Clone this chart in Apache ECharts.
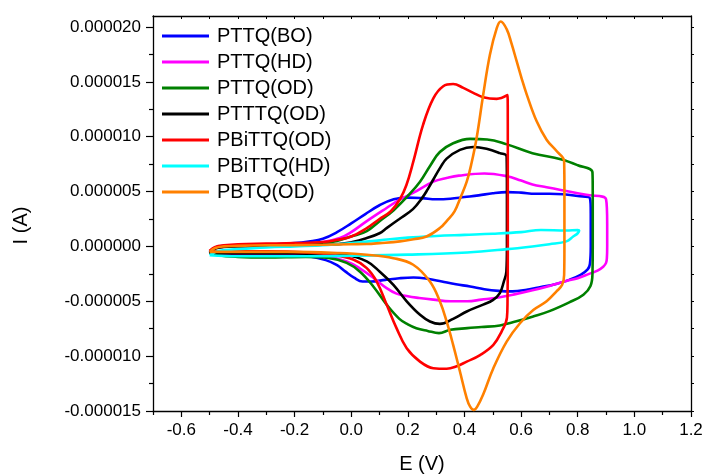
<!DOCTYPE html>
<html>
<head>
<meta charset="utf-8">
<script src="https://cdn.jsdelivr.net/npm/echarts@6/dist/echarts.min.js"></script>
<style>html,body{margin:0;padding:0;background:#fff}#c{width:703px;height:476px}</style>
</head>
<body>
<div id="c"></div>
<script>
// Units: E in V, I in microamperes (converted to A when building series)
const seriesNames = ['PTTQ(BO)','PTTQ(HD)','PTTQ(OD)','PTTTQ(OD)','PBiTTQ(OD)','PBiTTQ(HD)','PBTQ(OD)'];
const seriesColors = ['#0000FF','#FF00FF','#008000','#000000','#FF0000','#00FFFF','#FF8000'];

const PTTQ_BO = [[-0.5,-0.5],[-0.48,-0.1],[-0.45,0.05],[-0.4,0.1],[-0.3,0.15],[-0.2,0.3],[-0.15,0.45],[-0.1,0.7],[-0.05,1.3],[0,2.1],[0.05,2.95],[0.1,3.75],[0.15,4.3],[0.2,4.45],[0.25,4.4],[0.3,4.3],[0.35,4.35],[0.4,4.5],[0.45,4.65],[0.5,4.85],[0.55,4.95],[0.6,4.9],[0.65,4.8],[0.7,4.8],[0.75,4.75],[0.8,4.6],[0.843,4.4],
 [0.846,3.0],[0.846,0],[0.843,-1.6],[0.835,-2.1],[0.81,-2.6],[0.77,-3.05],[0.72,-3.45],[0.67,-3.7],[0.62,-3.95],[0.57,-4.1],[0.52,-4.05],[0.47,-3.9],[0.42,-3.65],[0.37,-3.45],[0.32,-3.2],[0.27,-2.95],[0.22,-2.83],[0.17,-2.9],[0.12,-3.05],[0.07,-3.2],[0.04,-3.2],[0.01,-2.85],[-0.02,-2.3],[-0.05,-1.7],[-0.09,-1.25],[-0.15,-0.9],[-0.2,-0.8],[-0.3,-0.75],[-0.4,-0.72],[-0.47,-0.68],[-0.5,-0.5]];

const PTTQ_HD = [[-0.5,-0.5],[-0.48,-0.1],[-0.45,0.0],[-0.4,0.1],[-0.3,0.15],[-0.2,0.2],[-0.1,0.4],[-0.04,0.76],[0,1.3],[0.055,2.3],[0.125,3.5],[0.17,4.25],[0.22,4.9],[0.29,5.9],[0.34,6.25],[0.38,6.45],[0.47,6.65],[0.55,6.4],[0.6,6.0],[0.64,5.65],[0.69,5.4],[0.74,5.15],[0.83,4.7],[0.9,4.3],
 [0.904,2],[0.904,0],[0.903,-1.0],[0.9,-1.5],[0.89,-1.85],[0.87,-2.2],[0.84,-2.5],[0.8,-2.9],[0.76,-3.15],[0.7,-3.6],[0.64,-4.0],[0.58,-4.35],[0.52,-4.65],[0.46,-4.85],[0.41,-5.0],[0.35,-5.0],[0.29,-4.85],[0.24,-4.7],[0.2,-4.55],[0.16,-4.3],[0.125,-3.8],[0.08,-2.9],[0.03,-2.0],[-0.016,-1.37],[-0.09,-0.9],[-0.2,-0.75],[-0.3,-0.72],[-0.4,-0.7],[-0.47,-0.66],[-0.5,-0.5]];

const PTTQ_OD = [[-0.5,-0.5],[-0.48,-0.15],[-0.45,0],[-0.4,0.05],[-0.3,0.1],[-0.2,0.15],[-0.1,0.3],[-0.05,0.5],[0,0.9],[0.055,1.4],[0.1,2.3],[0.15,3.3],[0.2,4.6],[0.243,5.9],[0.28,7.4],[0.313,8.6],[0.36,9.4],[0.42,9.8],[0.48,9.75],[0.55,9.3],[0.64,8.5],[0.74,7.95],[0.8,7.4],[0.852,6.75],
 [0.853,5],[0.853,0],[0.852,-2.5],[0.845,-3.6],[0.82,-4.4],[0.77,-5.1],[0.7,-5.9],[0.64,-6.4],[0.58,-6.85],[0.525,-7.2],[0.46,-7.35],[0.41,-7.45],[0.35,-7.6],[0.31,-7.9],[0.27,-7.7],[0.23,-7.45],[0.2,-7.1],[0.17,-6.6],[0.125,-5.3],[0.078,-3.65],[0.031,-2.3],[-0.016,-1.5],[-0.08,-1.05],[-0.16,-0.95],[-0.3,-1.0],[-0.4,-0.95],[-0.47,-0.8],[-0.5,-0.55]];

const PTTTQ_OD = [[-0.5,-0.6],[-0.48,-0.2],[-0.45,-0.05],[-0.4,0.0],[-0.3,0.05],[-0.2,0.1],[-0.1,0.15],[-0.016,0.3],[0.055,0.76],[0.1,1.2],[0.125,1.67],[0.17,2.5],[0.218,3.4],[0.25,4.4],[0.27,5.2],[0.29,6.1],[0.315,7.2],[0.337,8.0],[0.384,8.8],[0.431,9.06],[0.478,8.9],[0.525,8.5],[0.549,8.2],
 [0.55,5],[0.55,0],[0.548,-2.3],[0.539,-3.2],[0.525,-4.26],[0.5,-4.9],[0.466,-5.3],[0.408,-5.93],[0.36,-6.6],[0.313,-7.06],[0.278,-6.84],[0.243,-6.23],[0.196,-5.0],[0.149,-3.5],[0.101,-2.3],[0.055,-1.37],[-0.016,-0.8],[-0.1,-0.7],[-0.2,-0.65],[-0.3,-0.65],[-0.4,-0.65],[-0.47,-0.62],[-0.5,-0.6]];

const PBiTTQ_OD = [[-0.5,-0.4],[-0.48,-0.05],[-0.45,0.1],[-0.4,0.2],[-0.3,0.25],[-0.2,0.3],[-0.1,0.4],[-0.05,0.6],[0,0.9],[0.055,1.67],[0.1,2.5],[0.14,3.2],[0.172,4.3],[0.195,5.6],[0.219,7.7],[0.254,11.1],[0.29,13.5],[0.325,14.6],[0.36,14.8],[0.396,14.45],[0.431,14.0],[0.466,13.6],[0.514,13.45],[0.552,13.8],
 [0.553,10],[0.553,0],[0.552,-5],[0.55,-6.5],[0.531,-7.76],[0.502,-8.97],[0.455,-9.9],[0.408,-10.5],[0.37,-10.95],[0.337,-11.15],[0.29,-11.1],[0.243,-10.5],[0.196,-9.28],[0.16,-7.45],[0.125,-5.3],[0.09,-3.2],[0.055,-1.98],[0.007,-1.2],[-0.07,-0.75],[-0.15,-0.55],[-0.3,-0.45],[-0.4,-0.45],[-0.47,-0.45],[-0.5,-0.4]];

const PBiTTQ_HD = [[-0.5,-0.8],[-0.48,-0.5],[-0.45,-0.35],[-0.4,-0.25],[-0.3,-0.1],[-0.2,0.0],[-0.1,0.1],[0.0,0.3],[0.1,0.55],[0.2,0.8],[0.3,0.95],[0.4,1.05],[0.5,1.15],[0.6,1.3],[0.67,1.5],[0.76,1.45],[0.8,1.5],[0.805,1.45],
 [0.8,1.2],[0.784,0.9],[0.76,0.46],[0.7,0.2],[0.64,0.0],[0.55,-0.25],[0.41,-0.55],[0.2,-0.75],[0.0,-0.85],[-0.2,-0.9],[-0.4,-0.9],[-0.5,-0.8]];

const PBTQ_OD = [[-0.5,-0.5],[-0.48,-0.15],[-0.45,0.0],[-0.4,0.05],[-0.3,0.1],[-0.2,0.12],[-0.1,0.15],[0,0.2],[0.055,0.22],[0.1,0.3],[0.172,0.46],[0.22,0.65],[0.266,0.9],[0.313,1.67],[0.34,2.4],[0.365,3.2],[0.385,4.4],[0.408,5.9],[0.425,7.6],[0.443,9.9],[0.466,13.8],[0.49,17.5],[0.514,19.9],[0.528,20.5],[0.549,19.8],[0.566,18.5],[0.584,16.9],[0.602,15.3],[0.62,13.84],[0.655,11.4],[0.69,9.73],[0.726,8.67],[0.752,7.76],
 [0.753,5],[0.753,0],[0.752,-2.6],[0.745,-3.5],[0.725,-4.1],[0.69,-5.0],[0.643,-5.8],[0.596,-7.0],[0.549,-8.67],[0.502,-11.1],[0.466,-13.5],[0.445,-14.6],[0.433,-14.9],[0.42,-14.6],[0.408,-13.84],[0.384,-11.4],[0.36,-8.97],[0.337,-6.84],[0.313,-5.0],[0.278,-3.2],[0.219,-1.67],[0.149,-1.07],[0.055,-0.76],[-0.05,-0.6],[-0.2,-0.5],[-0.3,-0.5],[-0.4,-0.5],[-0.47,-0.5],[-0.5,-0.5]];

const xMajorTicks = [-0.6,-0.4,-0.2,0.0,0.2,0.4,0.6,0.8,1.0,1.2];
const xMinorTicks = [-0.7,-0.5,-0.3,-0.1,0.1,0.3,0.5,0.7,0.9,1.1];
const yMajorTicks = [-0.000015,-0.00001,-0.000005,0,0.000005,0.00001,0.000015,0.00002];
const yMinorTicks = [-0.0000125,-0.0000075,-0.0000025,0.0000025,0.0000075,0.0000125,0.0000175];

const allData = [PTTQ_BO, PTTQ_HD, PTTQ_OD, PTTTQ_OD, PBiTTQ_OD, PBiTTQ_HD, PBTQ_OD];
const FONT = '"Liberation Sans", Arial, sans-serif';
const X_MIN = -0.7, X_MAX = 1.2, Y_MIN = -0.000015, Y_MAX = 0.000021;

const chart = echarts.init(document.getElementById('c'), null, {renderer: 'canvas'});
const lineAx = {show: true, onZero: false, lineStyle: {color: '#000', width: 1.3}};
const noLine = {show: false, onZero: false};
const option = {
  animation: false,
  backgroundColor: '#fff',
  grid: {left: 153, right: 12, top: 16, bottom: 65, containLabel: false, outerBoundsMode: 'none'},
  legend: {
    orient: 'vertical', left: 157, top: 21, itemWidth: 47, itemHeight: 3, itemGap: 6,
    icon: 'rect',
    textStyle: {fontFamily: FONT, fontSize: 20, color: '#000', lineHeight: 20, padding: [0,0,0,3]},
    data: seriesNames
  },
  xAxis: [
    {type: 'value', position: 'bottom', min: X_MIN, max: X_MAX,
     axisLine: lineAx, splitLine: {show: false},
     axisTick: {show: true, length: 6, lineStyle: {color: '#000', width: 1.2}, customValues: xMajorTicks},
     axisLabel: {customValues: xMajorTicks, fontFamily: FONT, fontSize: 17, color: '#000', margin: 11,
       formatter: v => v.toFixed(1)},
     name: 'E (V)', nameLocation: 'middle', nameGap: 43,
     nameTextStyle: {fontFamily: FONT, fontSize: 20, color: '#000'}},
    {type: 'value', position: 'bottom', min: X_MIN, max: X_MAX,
     axisLine: noLine, splitLine: {show: false}, axisLabel: {show: false},
     axisTick: {show: true, length: 4, lineStyle: {color: '#000', width: 1.2}, customValues: xMinorTicks}},
    {type: 'value', position: 'top', min: X_MIN, max: X_MAX,
     axisLine: lineAx, splitLine: {show: false}, axisLabel: {show: false},
     axisTick: {show: true, inside: true, length: 3, lineStyle: {color: '#000', width: 1}, customValues: xMajorTicks.concat(xMinorTicks)}}
  ],
  yAxis: [
    {type: 'value', position: 'left', min: Y_MIN, max: Y_MAX,
     axisLine: lineAx, splitLine: {show: false},
     axisTick: {show: true, length: 7, lineStyle: {color: '#000', width: 1.2}, customValues: yMajorTicks},
     axisLabel: {customValues: yMajorTicks, fontFamily: FONT, fontSize: 17, color: '#000', margin: 12,
       formatter: v => v.toFixed(6)},
     name: 'I (A)', nameLocation: 'middle', nameGap: 122, nameRotate: 90,
     nameTextStyle: {fontFamily: FONT, fontSize: 20, color: '#000', padding: [0,24,0,0]}},
    {type: 'value', position: 'left', min: Y_MIN, max: Y_MAX,
     axisLine: noLine, splitLine: {show: false}, axisLabel: {show: false},
     axisTick: {show: true, length: 4, lineStyle: {color: '#000', width: 1.2}, customValues: yMinorTicks}},
    {type: 'value', position: 'right', min: Y_MIN, max: Y_MAX,
     axisLine: lineAx, splitLine: {show: false}, axisLabel: {show: false},
     axisTick: {show: true, length: 3, lineStyle: {color: '#000', width: 1}, customValues: yMajorTicks.concat(yMinorTicks)}}
  ],
  series: allData.map((pts, i) => ({
    name: seriesNames[i], type: 'line', xAxisIndex: 0, yAxisIndex: 0,
    data: pts.map(p => [p[0], p[1] * 1e-6]),
    showSymbol: false, symbol: 'none', smooth: 0.4,
    lineStyle: {color: seriesColors[i], width: 2.6},
    itemStyle: {color: seriesColors[i]},
    z: 2 + i
  }))
};
chart.setOption(option);
</script>
</body>
</html>
